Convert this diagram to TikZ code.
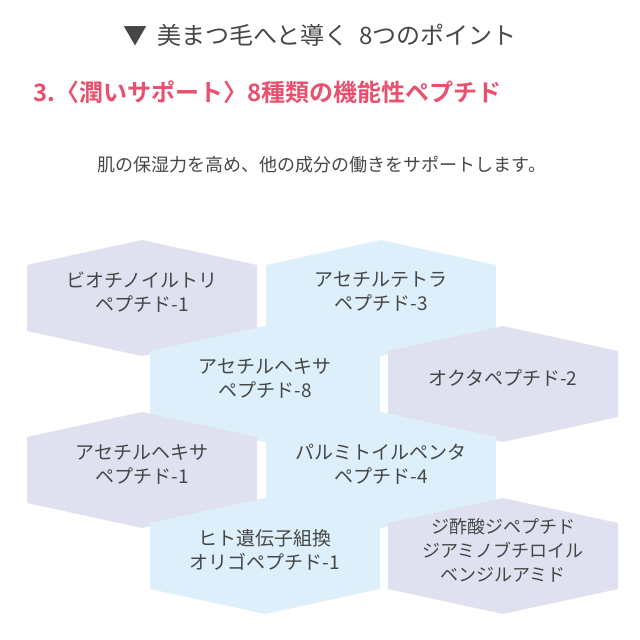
\documentclass[tikz,border=0pt]{standalone}
\usepackage{fontspec}
\setmainfont{Noto Sans CJK JP}
\newfontfamily\jpbold{Noto Sans CJK JP}[BoldFont={* Bold}]
\definecolor{lav}{RGB}{224,225,240}
\definecolor{sky}{RGB}{221,239,250}
\definecolor{txt}{RGB}{70,70,70}
\definecolor{rose}{RGB}{232,80,110}
\tikzset{
  hexlabel/.style={text=txt,align=center,font=\fontsize{19}{24}\selectfont,inner sep=0pt},
}
\newcommand{\hexat}[3]{% center x, center y, fill
  \fill[#3] (#1-115,#2-33) -- (#1,#2-58) -- (#1+115,#2-33) -- (#1+115,#2+33) -- (#1,#2+58) -- (#1-115,#2+33) -- cycle;}
\begin{document}
\begin{tikzpicture}[x=1pt,y=-1pt]
  \useasboundingbox (0,0) rectangle (640,640);

  % headings
  \node (head) at (320,35) [text=txt,font=\fontsize{24}{27}\selectfont] {▼\ \ 美まつ毛へと導く\ \ 8つのポイント};
  \node (title) at (30,92) [anchor=west,text=rose,font=\jpbold\bfseries\fontsize{24}{28}\selectfont] {3.〈潤いサポート〉8種類の機能性ペプチド};
  \node (lead) at (322,165) [text=txt,font=\fontsize{18}{22}\selectfont] {肌の保湿力を高め、他の成分の働きをサポートします。};

  % hexagons
  \hexat{142}{298}{lav} \hexat{381}{298}{sky}
  \hexat{265}{384}{sky} \hexat{503}{384}{lav}
  \hexat{142}{470}{lav} \hexat{381}{470}{sky}
  \hexat{265}{556}{sky} \hexat{503}{556}{lav}

  \node (p1) at (142,292) [hexlabel] {ビオチノイルトリ\\ペプチド-1};
  \node (p3) at (381,292) [hexlabel] {アセチルテトラ\\ペプチド-3};
  \node (p8) at (265,378) [hexlabel] {アセチルヘキサ\\ペプチド-8};
  \node (p2) at (503,378) [hexlabel] {オクタペプチド-2};
  \node (h1) at (142,464) [hexlabel] {アセチルヘキサ\\ペプチド-1};
  \node (p4) at (381,464) [hexlabel] {パルミトイルペンタ\\ペプチド-4};
  \node (og) at (265,550) [hexlabel] {ヒト遺伝子組換\\オリゴペプチド-1};
  \node (dp) at (503,550) [hexlabel,font=\fontsize{18}{24}\selectfont] {ジ酢酸ジペプチド\\ジアミノブチロイル\\ベンジルアミド};
\end{tikzpicture}
\end{document}
